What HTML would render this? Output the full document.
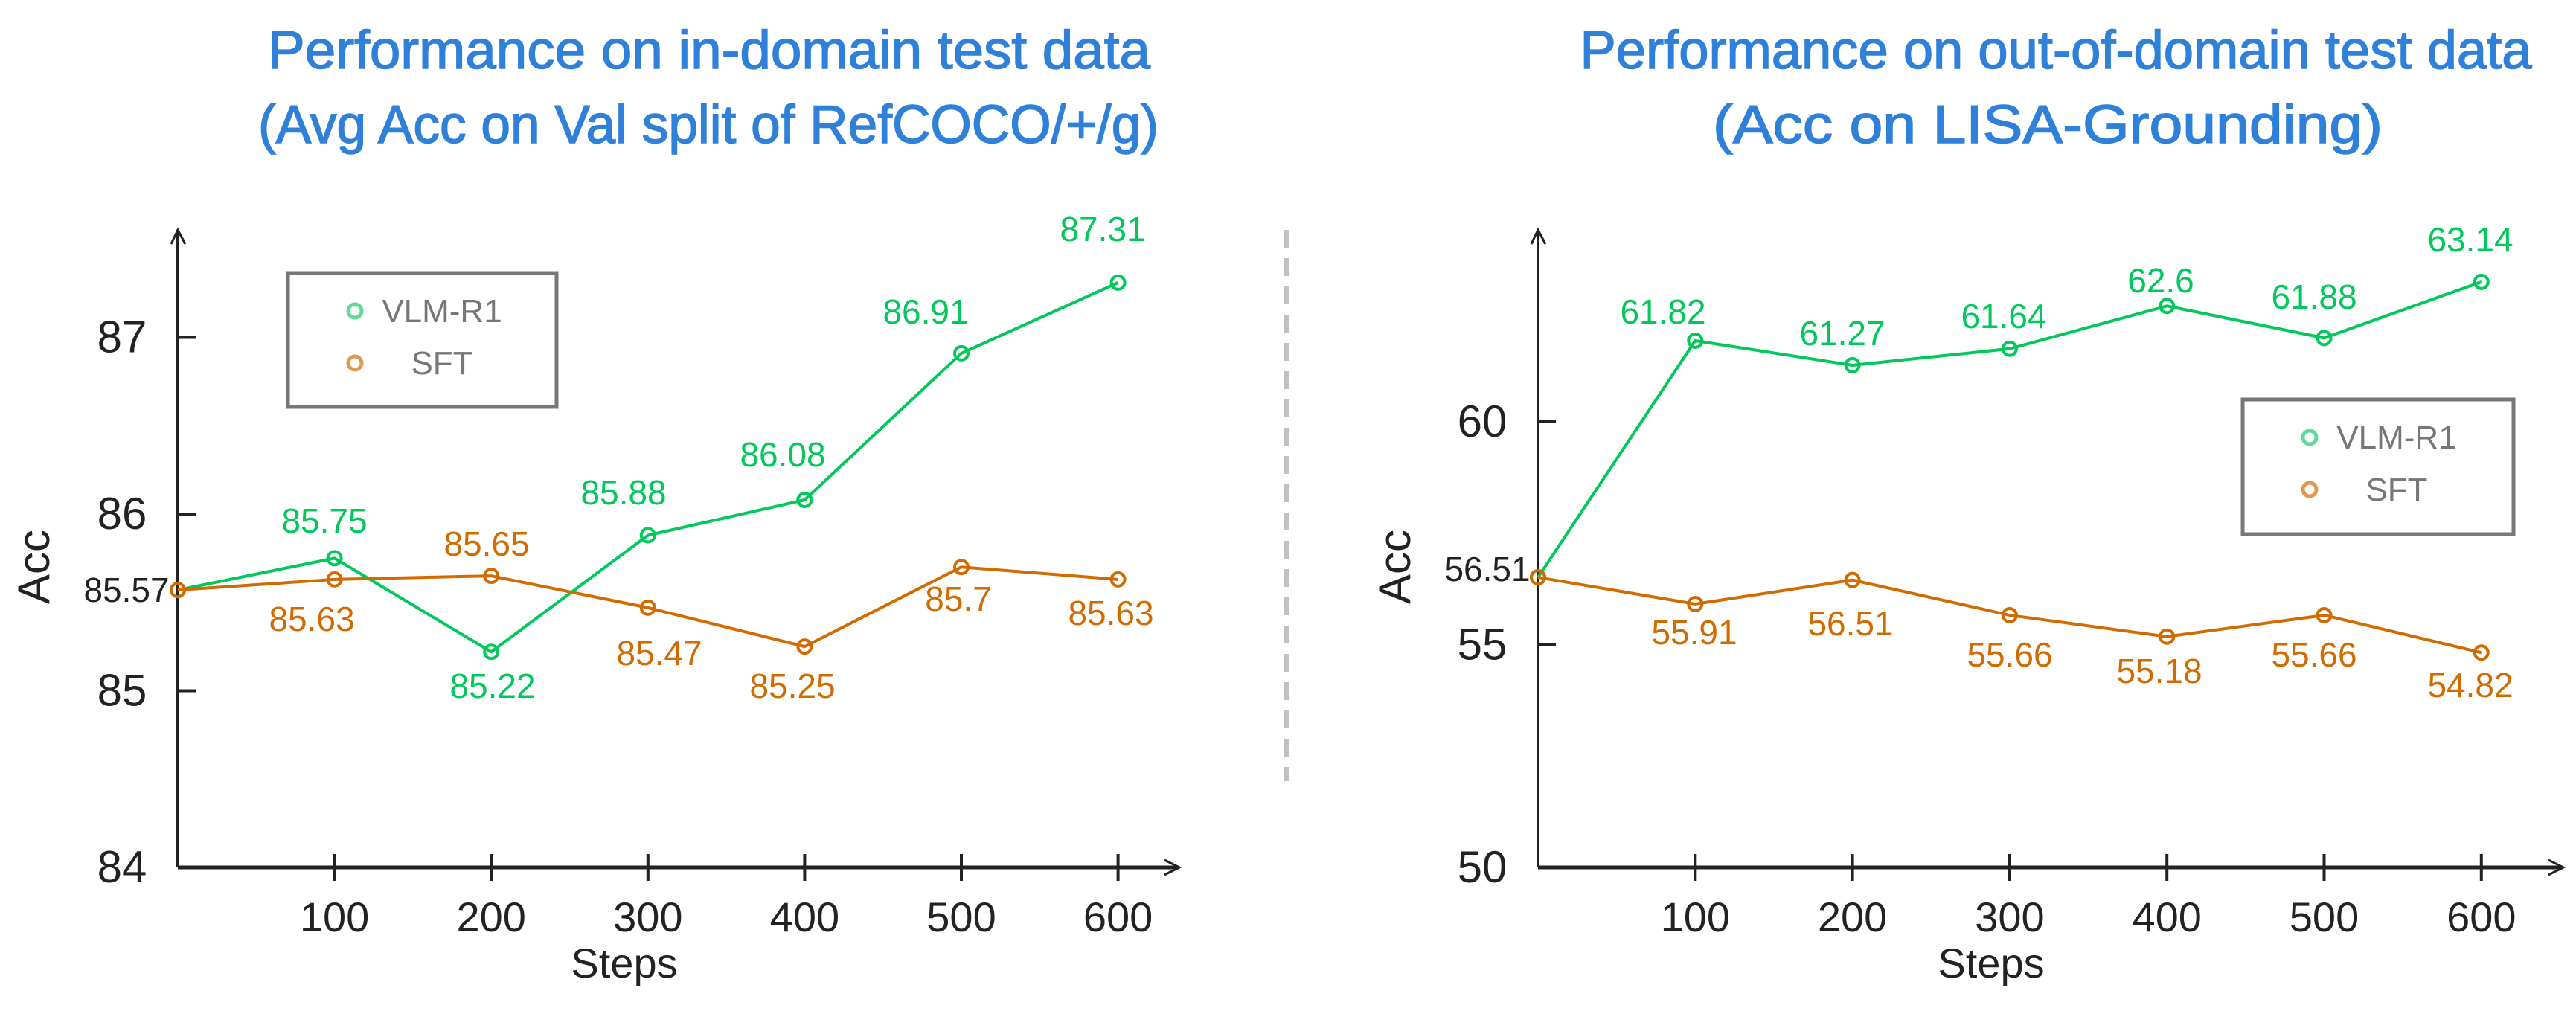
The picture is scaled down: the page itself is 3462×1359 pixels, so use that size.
<!DOCTYPE html>
<html><head><meta charset="utf-8"><style>
html,body{margin:0;padding:0;background:#fff;}
svg{display:block;}
text{font-family:"Liberation Sans Narrow","Liberation Sans",sans-serif;}
</style></head><body>
<svg id="s" width="3462" height="1359" viewBox="0 0 3462 1359" xmlns="http://www.w3.org/2000/svg">
<g fill="#2f80d8" stroke="#2f80d8" stroke-width="1.5" font-size="72" text-anchor="middle">
<text x="953" y="92" textLength="1186" lengthAdjust="spacingAndGlyphs">Performance on in-domain test data</text>
<text x="952" y="192" textLength="1210" lengthAdjust="spacingAndGlyphs">(Avg Acc on Val split of RefCOCO/+/g)</text>
<text x="2763" y="92" textLength="1279" lengthAdjust="spacingAndGlyphs">Performance on out-of-domain test data</text>
<text x="2752" y="192" textLength="900" lengthAdjust="spacingAndGlyphs">(Acc on LISA-Grounding)</text>
</g>
<line x1="1729" y1="309" x2="1729" y2="1050" stroke="#c0c0c0" stroke-width="6" stroke-dasharray="24,14"/>
<g id="g"></g>
</svg>
<script>
var G=document.getElementById('g'),h='';
var GR='#00c85a',OR='#d26a00';
function chart(c){
 var X=function(s){return c.x0+s*c.sx/100;},Y=function(v){return c.y0-(v-c.vmin)*c.sy;};
 h+='<line x1="'+c.x0+'" y1="'+c.y0+'" x2="'+c.x0+'" y2="309" stroke="#222" stroke-width="4"/>';
 h+='<polyline points="'+(c.x0-9)+',328 '+c.x0+',309 '+(c.x0+10)+',328" fill="none" stroke="#222" stroke-width="3"/>';
 h+='<line x1="'+c.x0+'" y1="'+c.y0+'" x2="'+c.xe+'" y2="'+c.y0+'" stroke="#222" stroke-width="5"/>';
 h+='<polyline points="'+(c.xe-20)+','+(c.y0-10)+' '+c.xe+','+c.y0+' '+(c.xe-20)+','+(c.y0+10)+'" fill="none" stroke="#222" stroke-width="3"/>';
 for(var i=1;i<=6;i++){var x=X(i*100);
  h+='<line x1="'+x+'" y1="'+(c.y0-18)+'" x2="'+x+'" y2="'+(c.y0+18)+'" stroke="#222" stroke-width="4"/>';
  h+='<text x="'+x+'" y="1252" font-size="56" fill="#222" text-anchor="middle">'+(i*100)+'</text>';}
 c.yt.forEach(function(v){var y=Y(v);
  if(v!=c.vmin)h+='<line x1="'+c.x0+'" y1="'+y+'" x2="'+(c.x0+24)+'" y2="'+y+'" stroke="#222" stroke-width="4"/>';
  h+='<text x="'+(c.x0-75)+'" y="'+(y+20)+'" font-size="60" fill="#222" text-anchor="middle">'+v+'</text>';});
 h+='<text x="'+c.sx0+'" y="1314" font-size="56" fill="#222" text-anchor="middle">Steps</text>';
 h+='<text transform="translate('+c.ax+',762) rotate(-90)" font-size="60" fill="#222" text-anchor="middle">Acc</text>';
 [[c.g,GR],[c.o,OR]].forEach(function(p){
  var pts=p[0].map(function(v,i){return X(i*100)+','+Y(v);}).join(' ');
  h+='<polyline points="'+pts+'" fill="none" stroke="'+p[1]+'" stroke-width="4"/>';
  p[0].forEach(function(v,i){h+='<circle cx="'+X(i*100)+'" cy="'+Y(v)+'" r="9" fill="none" stroke="'+p[1]+'" stroke-width="4"/>';});
 });
 c.lab.forEach(function(l){h+='<text x="'+l[1]+'" y="'+(l[2]+16)+'" font-size="46" fill="'+l[3]+'" text-anchor="middle">'+l[0]+'</text>';});
 var L=c.leg;
 h+='<rect x="'+L[0]+'" y="'+L[1]+'" width="'+(L[2]-L[0])+'" height="'+(L[3]-L[1])+'" fill="none" stroke="#777" stroke-width="5"/>';
 h+='<circle cx="'+(L[0]+90)+'" cy="'+(L[1]+51)+'" r="9" fill="none" stroke="#5ddc98" stroke-width="5"/>';
 h+='<circle cx="'+(L[0]+90)+'" cy="'+(L[1]+121)+'" r="9" fill="none" stroke="#e09a50" stroke-width="5"/>';
 h+='<text x="'+(L[0]+207)+'" y="'+(L[1]+66)+'" font-size="44" fill="#777" text-anchor="middle">VLM-R1</text>';
 h+='<text x="'+(L[0]+207)+'" y="'+(L[1]+136)+'" font-size="44" fill="#777" text-anchor="middle">SFT</text>';
}
chart({x0:239,y0:1166,xe:1585,sx:210.6,sy:237.5,vmin:84,yt:[84,85,86,87],sx0:839,ax:66,
 g:[85.57,85.75,85.22,85.88,86.08,86.91,87.31],o:[85.57,85.63,85.65,85.47,85.25,85.7,85.63],
 leg:[387,367,748,547],
 lab:[['85.75',436,700,GR],['85.22',662,922,GR],['85.88',838,662,GR],['86.08',1052,611,GR],['86.91',1244,419,GR],['87.31',1482,308,GR],
 ['85.63',419,832,OR],['85.65',654,731,OR],['85.47',886,878,OR],['85.25',1065,922,OR],['85.7',1288,805,OR],['85.63',1493,824,OR],['85.57',170,793,'#222']]});
chart({x0:2067,y0:1166,xe:3445,sx:211.3,sy:59.9,vmin:50,yt:[50,55,60],sx0:2676,ax:1895,
 g:[56.51,61.82,61.27,61.64,62.6,61.88,63.14],o:[56.51,55.91,56.45,55.66,55.18,55.66,54.82],
 leg:[3014,537,3378,718],
 lab:[['61.82',2235,419,GR],['61.27',2476,448,GR],['61.64',2693,425,GR],['62.6',2904,377,GR],['61.88',3110,399,GR],['63.14',3320,322,GR],
 ['55.91',2277,850,OR],['56.51',2487,838,OR],['55.66',2701,880,OR],['55.18',2902,902,OR],['55.66',3110,880,OR],['54.82',3320,921,OR],['56.51',1999,765,'#222']]});
G.innerHTML=h;
</script>
</body></html>
